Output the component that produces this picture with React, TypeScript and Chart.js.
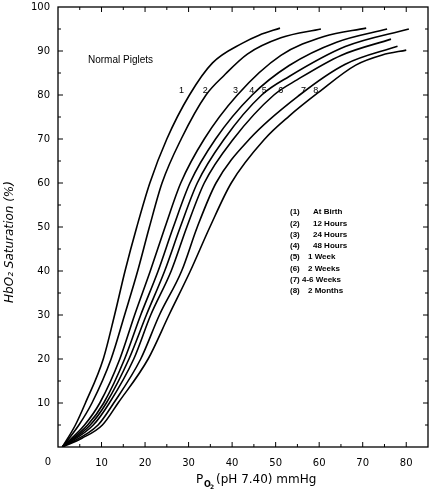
import React, { useEffect, useRef } from "react";
import { Chart, registerables } from "chart.js";

Chart.register(...registerables);

// ---- data ----
const curveNames = ["1", "2", "3", "4", "5", "6", "7", "8"];
const legendNumbers = ["(1)", "(2)", "(3)", "(4)", "(5)", "(6)", "(7)", "(8)"];
const legendLabels = ["At Birth", "12 Hours", "24 Hours", "48 Hours", "1 Week", "2 Weeks", "4-6 Weeks", "2 Months"];

// PO2 (mmHg) and HbO2 saturation (%) along each curve
const po2_1 = [1, 4.0, 6.3, 10.4, 13.0, 15.4, 18.1, 21.1, 25.0, 30.2, 35.5, 42.4, 46.2, 51.0];
const sat_1 = [0, 5, 10, 20, 30, 40, 50, 60, 70, 80, 87.3, 91.8, 93.6, 95.2];

const po2_2 = [1, 4.8, 7.8, 12.2, 15.3, 18.3, 21.0, 23.9, 28.3, 34.0, 38.2, 43.5, 51.2, 60.4];
const sat_2 = [0, 5, 10, 20, 30, 40, 50, 60, 70, 80, 84.5, 89.3, 93.0, 95.0];

const po2_3 = [1, 6.1, 9.6, 14.2, 17.6, 21.2, 24.6, 28.2, 33.6, 41.2, 51.2, 61.1, 70.8];
const sat_3 = [0, 5, 10, 20, 30, 40, 50, 60, 70, 80, 89.0, 93.3, 95.2];

const po2_4 = [1, 6.8, 10.5, 15.3, 19.0, 23.0, 26.5, 30.3, 36.2, 44.6, 53.1, 64.0, 75.6];
const sat_4 = [0, 5, 10, 20, 30, 40, 50, 60, 70, 80, 86.7, 92.0, 95.0];

const po2_5 = [1, 7.4, 11.1, 16.3, 20.3, 24.5, 28.1, 32.0, 38.2, 46.8, 53.1, 66.0, 80.6];
const sat_5 = [0, 5, 10, 20, 30, 40, 50, 60, 70, 80, 84.2, 91.0, 95.0];

const po2_6 = [1, 8.1, 11.8, 17.4, 21.3, 26.0, 29.6, 33.6, 40.3, 49.6, 55.0, 65.0, 76.5];
const sat_6 = [0, 5, 10, 20, 30, 40, 50, 60, 70, 80, 83.5, 89.0, 92.7];

const po2_7 = [1, 9.2, 12.8, 19.0, 23.3, 28.4, 32.0, 36.3, 44.0, 55.5, 66.0, 78.0];
const sat_7 = [0, 5, 10, 20, 30, 40, 50, 60, 70, 80, 87.0, 91.1];

const po2_8 = [1, 5.5, 10.2, 13.8, 20.7, 25.5, 30.4, 34.9, 39.8, 47.5, 53.1, 59.6, 68.4, 74.5, 80.0];
const sat_8 = [0, 2, 5, 10, 20, 30, 40, 50, 60, 70, 75.2, 80.4, 86.8, 89.1, 90.2];

const po2Series = [po2_1, po2_2, po2_3, po2_4, po2_5, po2_6, po2_7, po2_8];
const satSeries = [sat_1, sat_2, sat_3, sat_4, sat_5, sat_6, sat_7, sat_8];

const xTicks = [10, 20, 30, 40, 50, 60, 70, 80];
const yTicks = [10, 20, 30, 40, 50, 60, 70, 80, 90, 100];

// where the curve numbers sit (data coordinates)
const labelPo2 = [28.4, 33.8, 40.8, 44.5, 47.4, 51.2, 56.4, 59.2];
const labelSat = 81.1;

const TEXT = "#000";

const decorPlugin = {
  id: "decor",
  afterDraw(chart: any) {
    const { ctx, chartArea: a, scales } = chart;
    const xs = scales.x;
    const ys = scales.y;
    ctx.save();
    ctx.strokeStyle = "#000";
    ctx.lineWidth = 1.3;
    ctx.strokeRect(a.left, a.top, a.right - a.left, a.bottom - a.top);

    // inward ticks
    ctx.lineWidth = 1;
    ctx.beginPath();
    for (let v = 5; v < 85; v += 5) {
      const px = xs.getPixelForValue(v);
      const len = v % 10 === 0 ? 5 : 3;
      ctx.moveTo(px, a.bottom);
      ctx.lineTo(px, a.bottom - len);
      ctx.moveTo(px, a.top);
      ctx.lineTo(px, a.top + len);
    }
    for (let v = 5; v < 100; v += 5) {
      const py = ys.getPixelForValue(v);
      const len = v % 10 === 0 ? 5 : 3;
      ctx.moveTo(a.left, py);
      ctx.lineTo(a.left + len, py);
      ctx.moveTo(a.right, py);
      ctx.lineTo(a.right - len, py);
    }
    ctx.stroke();

    ctx.fillStyle = TEXT;
    // origin label
    ctx.font = "10px 'DejaVu Sans'";
    ctx.textAlign = "center";
    ctx.textBaseline = "middle";
    ctx.fillText("0", xs.getPixelForValue(0) - 10, 462);

    // x title: P O2 (pH 7.40) mmHg
    ctx.textAlign = "left";
    ctx.textBaseline = "alphabetic";
    ctx.font = "12px 'DejaVu Sans'";
    ctx.fillText("P", 196, 483);
    ctx.font = "bold 8px 'DejaVu Sans'";
    ctx.fillText("O", 204, 487);
    ctx.font = "bold 6px 'DejaVu Sans'";
    ctx.fillText("2", 210, 489);
    ctx.font = "12px 'DejaVu Sans'";
    ctx.fillText("(pH 7.40) mmHg", 216, 483);

    // y title
    ctx.save();
    ctx.translate(10, 242);
    ctx.rotate(-Math.PI / 2);
    ctx.textAlign = "center";
    ctx.textBaseline = "middle";
    ctx.font = "italic 12px 'DejaVu Sans'";
    ctx.fillText("HbO\u2082 Saturation (%)", 0, 0);
    ctx.restore();

    // Header
    ctx.font = "10px 'Liberation Sans'";
    ctx.textAlign = "left";
    ctx.textBaseline = "middle";
    ctx.fillText("Normal Piglets", 88, 60);

    // curve numbers
    ctx.font = "9px 'Liberation Sans'";
    ctx.textAlign = "center";
    for (let i = 0; i < curveNames.length; i++) {
      ctx.fillText(curveNames[i], xs.getPixelForValue(labelPo2[i]), ys.getPixelForValue(labelSat));
    }

    // key
    ctx.font = "bold 8px 'Liberation Sans'";
    ctx.textAlign = "left";
    const descX = [313, 313, 313, 313, 308, 308, 302, 308];
    for (let i = 0; i < legendNumbers.length; i++) {
      const y = 212 + i * 11.3;
      ctx.fillText(legendNumbers[i], 290, y);
      ctx.fillText(legendLabels[i], descX[i], y);
    }
    ctx.restore();
  },
};

export default function App() {
  const ref = useRef<HTMLCanvasElement | null>(null);

  useEffect(() => {
    if (!ref.current) return;
    const datasets = curveNames.map((name, i) => ({
      label: name,
      data: po2Series[i].map((x, j) => ({ x, y: satSeries[i][j] })),
      borderColor: "#000",
      borderWidth: 1.6,
      pointRadius: 0,
      fill: false,
      cubicInterpolationMode: "monotone" as const,
    }));
    const chart = new Chart(ref.current, {
      type: "line",
      data: { datasets },
      options: {
        responsive: false,
        animation: false,
        layout: { padding: { left: 0, top: 7, right: 2, bottom: 0 } },
        plugins: { legend: { display: false }, tooltip: { enabled: false } },
        scales: {
          x: {
            type: "linear",
            min: 0,
            max: 85,
            afterBuildTicks: (s: any) => {
              s.ticks = xTicks.map((v) => ({ value: v }));
            },
            afterFit: (s: any) => {
              s.height = 50;
              s.paddingLeft = 0;
              s.paddingRight = 0;
            },
            grid: { display: false, drawTicks: false },
            border: { display: false },
            ticks: {
              color: TEXT,
              font: { family: "DejaVu Sans", size: 10 },
              padding: 10,
              maxRotation: 0,
              autoSkip: false,
            },
          },
          y: {
            type: "linear",
            min: 0,
            max: 100,
            afterBuildTicks: (s: any) => {
              s.ticks = yTicks.map((v) => ({ value: v }));
            },
            afterFit: (s: any) => {
              s.width = 58;
              s.paddingTop = 0;
              s.paddingBottom = 0;
            },
            grid: { display: false, drawTicks: false },
            border: { display: false },
            ticks: {
              color: TEXT,
              font: { family: "DejaVu Sans", size: 10 },
              padding: 8,
              autoSkip: false,
            },
          },
        },
      },
      plugins: [decorPlugin],
    });
    return () => chart.destroy();
  }, []);

  return (
    <div style={{ position: "absolute", left: 0, top: 0, width: 430, height: 497, background: "#fff" }}>
      <canvas ref={ref} width={430} height={497} style={{ width: 430, height: 497, display: "block" }} />
    </div>
  );
}
